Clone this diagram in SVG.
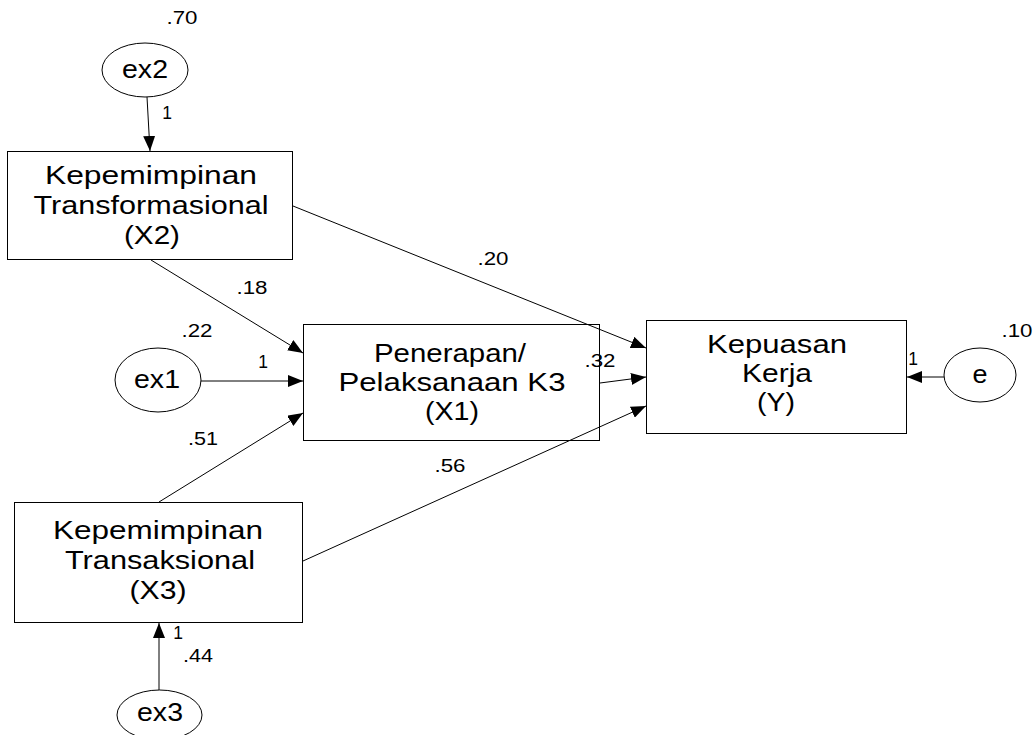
<svg xmlns="http://www.w3.org/2000/svg" width="1034" height="735" viewBox="0 0 1034 735">
<style>
.box{fill:#fff;stroke:#000;stroke-width:1}
.ell{fill:#fff;stroke:#000;stroke-width:1}
.t{font-family:"Liberation Sans",Arial,sans-serif;font-size:25px;fill:#000;text-anchor:middle}
.l{font-family:"Liberation Sans",Arial,sans-serif;font-size:17.5px;fill:#000;text-anchor:middle}
.c{stroke:#000;stroke-width:1;fill:none;marker-end:url(#arr)}
</style>
<defs>
<marker id="arr" markerWidth="15" markerHeight="12" refX="15" refY="6" orient="auto" markerUnits="userSpaceOnUse">
<path d="M0,0 L15,6 L0,12 z" fill="#000"/>
</marker>
</defs>
<rect width="1034" height="735" fill="#fff"/>
<g id="ex2">
<ellipse class="ell" cx="145" cy="70" rx="43" ry="27"/>
<text class="t" x="145" y="78" textLength="46" lengthAdjust="spacingAndGlyphs">ex2</text>
</g>
<g id="X2">
<rect class="box" x="7.5" y="151.5" width="285" height="108"/>
<text class="t" x="151" y="184" textLength="212" lengthAdjust="spacingAndGlyphs">Kepemimpinan</text>
<text class="t" x="151" y="214" textLength="235" lengthAdjust="spacingAndGlyphs">Transformasional</text>
<text class="t" x="152" y="244" textLength="56" lengthAdjust="spacingAndGlyphs">(X2)</text>
</g>
<g id="ex1">
<ellipse class="ell" cx="158" cy="380" rx="43" ry="32"/>
<text class="t" x="157" y="388" textLength="46" lengthAdjust="spacingAndGlyphs">ex1</text>
</g>
<g id="X1">
<rect class="box" x="303.5" y="324.5" width="296" height="116"/>
<text class="t" x="450" y="362" textLength="152" lengthAdjust="spacingAndGlyphs">Penerapan/</text>
<text class="t" x="452" y="391" textLength="227" lengthAdjust="spacingAndGlyphs">Pelaksanaan K3</text>
<text class="t" x="452" y="420" textLength="54" lengthAdjust="spacingAndGlyphs">(X1)</text>
</g>
<g id="Y">
<rect class="box" x="646.5" y="320.5" width="260" height="113"/>
<text class="t" x="777" y="353" textLength="140" lengthAdjust="spacingAndGlyphs">Kepuasan</text>
<text class="t" x="777" y="382" textLength="70" lengthAdjust="spacingAndGlyphs">Kerja</text>
<text class="t" x="776" y="411" textLength="38" lengthAdjust="spacingAndGlyphs">(Y)</text>
</g>
<g id="e">
<ellipse class="ell" cx="980" cy="375" rx="36" ry="27"/>
<text class="t" x="980" y="383" textLength="15" lengthAdjust="spacingAndGlyphs">e</text>
</g>
<g id="X3">
<rect class="box" x="14.5" y="502.5" width="288" height="120"/>
<text class="t" x="158" y="539" textLength="210" lengthAdjust="spacingAndGlyphs">Kepemimpinan</text>
<text class="t" x="160" y="569" textLength="190" lengthAdjust="spacingAndGlyphs">Transaksional</text>
<text class="t" x="158" y="599" textLength="57" lengthAdjust="spacingAndGlyphs">(X3)</text>
</g>
<g id="ex3">
<ellipse class="ell" cx="159.5" cy="715" rx="42.5" ry="25"/>
<text class="t" x="160" y="721" textLength="46" lengthAdjust="spacingAndGlyphs">ex3</text>
</g>
<g id="connectors">
<line class="c" x1="147" y1="97" x2="150" y2="151"/>
<line class="c" x1="293" y1="206" x2="646" y2="348"/>
<line class="c" x1="151" y1="260" x2="303" y2="353"/>
<line class="c" x1="201" y1="381" x2="303" y2="381"/>
<line class="c" x1="159" y1="502" x2="303" y2="413"/>
<line class="c" x1="600" y1="383" x2="646" y2="377"/>
<line class="c" x1="303" y1="561" x2="646" y2="406"/>
<line class="c" x1="944" y1="377" x2="907" y2="377"/>
<line class="c" x1="159" y1="690" x2="159" y2="623"/>
</g>
<g id="labels">
<text class="l" x="182" y="24" textLength="31" lengthAdjust="spacingAndGlyphs">.70</text>
<text class="l" x="167" y="119">1</text>
<text class="l" x="252" y="294" textLength="31" lengthAdjust="spacingAndGlyphs">.18</text>
<text class="l" x="493" y="265" textLength="31" lengthAdjust="spacingAndGlyphs">.20</text>
<text class="l" x="197" y="337" textLength="31" lengthAdjust="spacingAndGlyphs">.22</text>
<text class="l" x="263" y="368">1</text>
<text class="l" x="203" y="445" textLength="30" lengthAdjust="spacingAndGlyphs">.51</text>
<text class="l" x="600" y="367" textLength="31" lengthAdjust="spacingAndGlyphs">.32</text>
<text class="l" x="450" y="472" textLength="31" lengthAdjust="spacingAndGlyphs">.56</text>
<text class="l" x="913" y="365">1</text>
<text class="l" x="1017" y="337" textLength="31" lengthAdjust="spacingAndGlyphs">.10</text>
<text class="l" x="178" y="639">1</text>
<text class="l" x="198" y="662" textLength="30" lengthAdjust="spacingAndGlyphs">.44</text>
</g>
</svg>
